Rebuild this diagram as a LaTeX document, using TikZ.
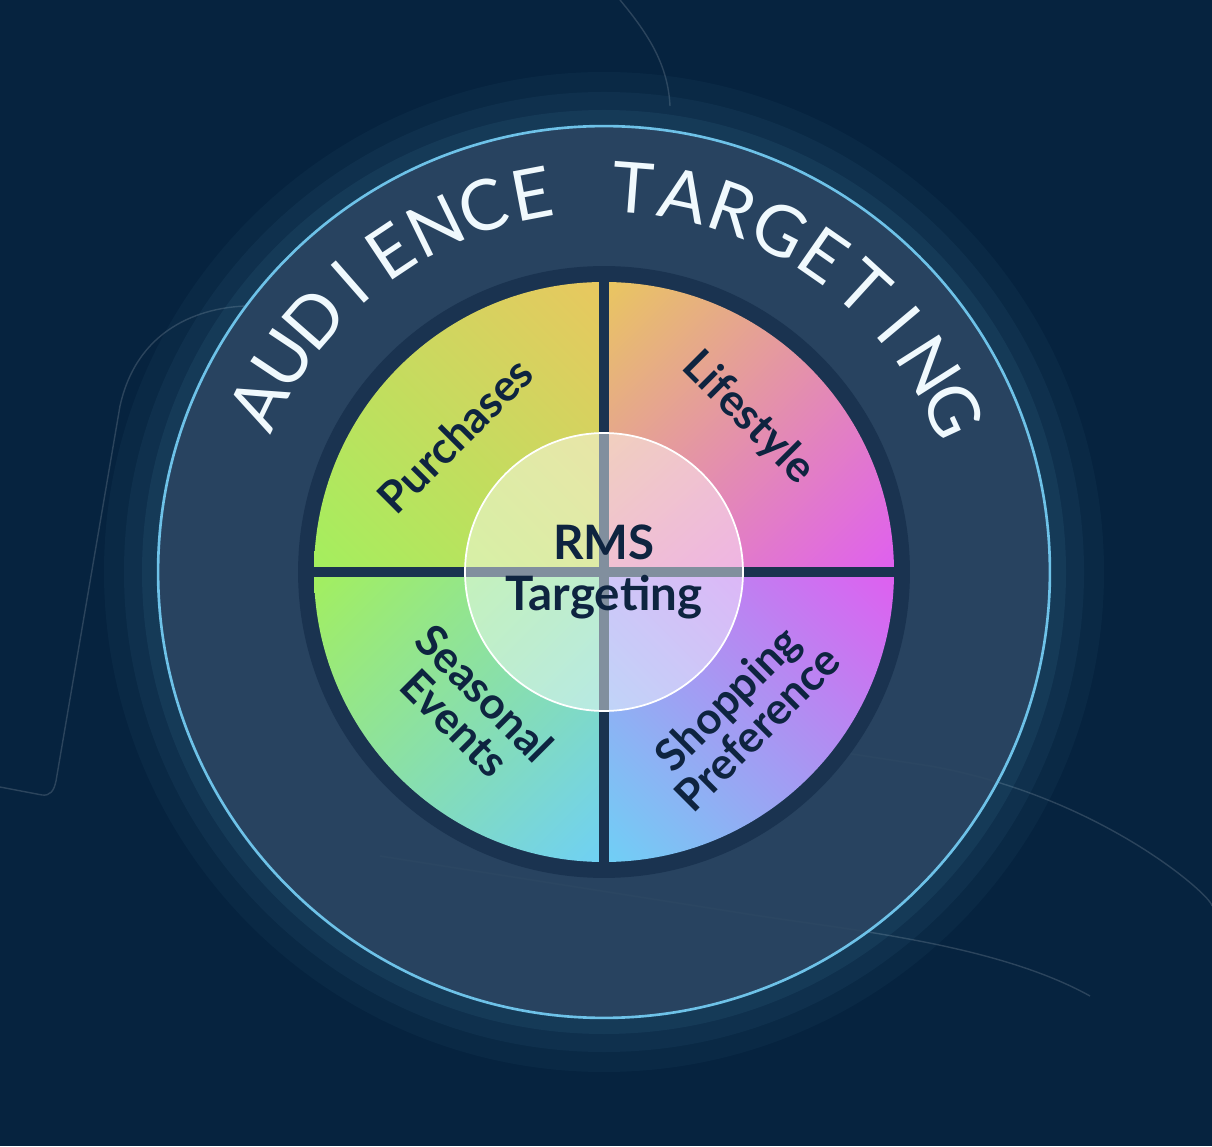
\documentclass[tikz,border=0pt]{standalone}
\usepackage{fontspec}
\setmainfont{Lato}
\usetikzlibrary{positioning, calc, shadings}
\definecolor{bgnavy}{HTML}{06233F}
\definecolor{ringblue}{HTML}{2B4561}
\definecolor{innerring}{HTML}{1A3350}
\definecolor{edgecyan}{HTML}{6EC2E8}
\definecolor{inkdark}{HTML}{0E2440}
\definecolor{yel}{HTML}{E9C75F}
\definecolor{grn}{HTML}{A3EF5E}
\definecolor{mag}{HTML}{DF5FF0}
\definecolor{cya}{HTML}{6FD0F5}
\tikzset{
  quadlabel/.style={text=inkdark, font=\fontsize{25}{24}\selectfont\bfseries, align=center},
  ringletter/.style={text=white!90!edgecyan, font=\fontsize{40}{40}\selectfont},
  faintline/.style={draw=white!15!bgnavy, line width=0.8pt}
}
\begin{document}
\begin{tikzpicture}[x=0.02cm, y=0.02cm]
  \fill[bgnavy] (0,0) rectangle (1212,1146);
  \useasboundingbox (0,0) rectangle (1212,1146);
  \coordinate (c) at (604,574);
  % faint background lines
  \draw[faintline] (0,359) -- (42,351) .. controls (50,350) and (54,355) .. (56,365) -- (120,740)
    .. controls (140,830) and (220,840) .. (250,840);
  \draw[faintline] (620,1146) .. controls (650,1110) and (668,1080) .. (670,1040);
  \draw[faintline] (380,290) -- (760,230) .. controls (860,215) and (1000,200) .. (1090,150);
  \draw[faintline] (800,400) -- (930,380) .. controls (1100,350) and (1212,250) .. (1212,240);
  % glow
  \foreach \r/\o in {500/0.04, 480/0.05, 462/0.07} {
    \fill[edgecyan, opacity=\o] (c) circle (\r);
  }
  % rings
  \node[circle, fill=ringblue, fill opacity=0.9, draw=edgecyan, line width=1.5pt, minimum size=17.84cm] (outer) at (c) {};
  \node[circle, fill=innerring, minimum size=12.24cm] (inner) at (c) {};
  % quadrants
  \shade[upper right=yel, lower left=grn, upper left=yel!50!grn, lower right=yel!50!grn]
    (c) -- ++(180:290) arc (180:90:290) -- cycle;
  \shade[upper left=yel, lower right=mag, upper right=yel!45!mag, lower left=yel!45!mag]
    (c) -- ++(90:290) arc (90:0:290) -- cycle;
  \shade[upper left=grn, lower right=cya, upper right=grn!50!cya, lower left=grn!50!cya]
    (c) -- ++(180:290) arc (180:270:290) -- cycle;
  \shade[upper right=mag, lower left=cya, upper left=mag!50!cya, lower right=mag!50!cya]
    (c) -- ++(0:290) arc (0:-90:290) -- cycle;
  \draw[innerring, line width=0.2cm] ($(c)+(0,-300)$) -- ($(c)+(0,300)$);
  \draw[innerring, line width=0.2cm] ($(c)+(-300,0)$) -- ($(c)+(300,0)$);
  % centre disc
  \node[circle, fill=white, fill opacity=0.45, draw=white, line width=1pt, minimum size=5.56cm] (hub) at (c) {};
  \node[text=inkdark, font=\fontsize{27}{29}\selectfont\bfseries, align=center] (hubtext) at (c) {RMS\\Targeting};
  % quadrant labels
  \node[quadlabel, rotate=45] (purch) at (455,711) {Purchases};
  \node[quadlabel, rotate=-45] (life) at (748,728) {Lifestyle};
  \node[quadlabel, rotate=-45] (seas) at (470,438) {Seasonal\\Events};
  \node[quadlabel, rotate=45] (shop) at (742,433) {Shopping\\Preference};
  % ring title
  \foreach \ch [count=\i] in {A,U,D,I,E,N,C,E,{ },T,A,R,G,E,T,I,N,G} {
    \pgfmathsetmacro{\ang}{154-(\i-1)*7.6}
    \node[ringletter, rotate=\ang-90] at ($(c)+(\ang:385)$) {\ch};
  }
\end{tikzpicture}
\end{document}
